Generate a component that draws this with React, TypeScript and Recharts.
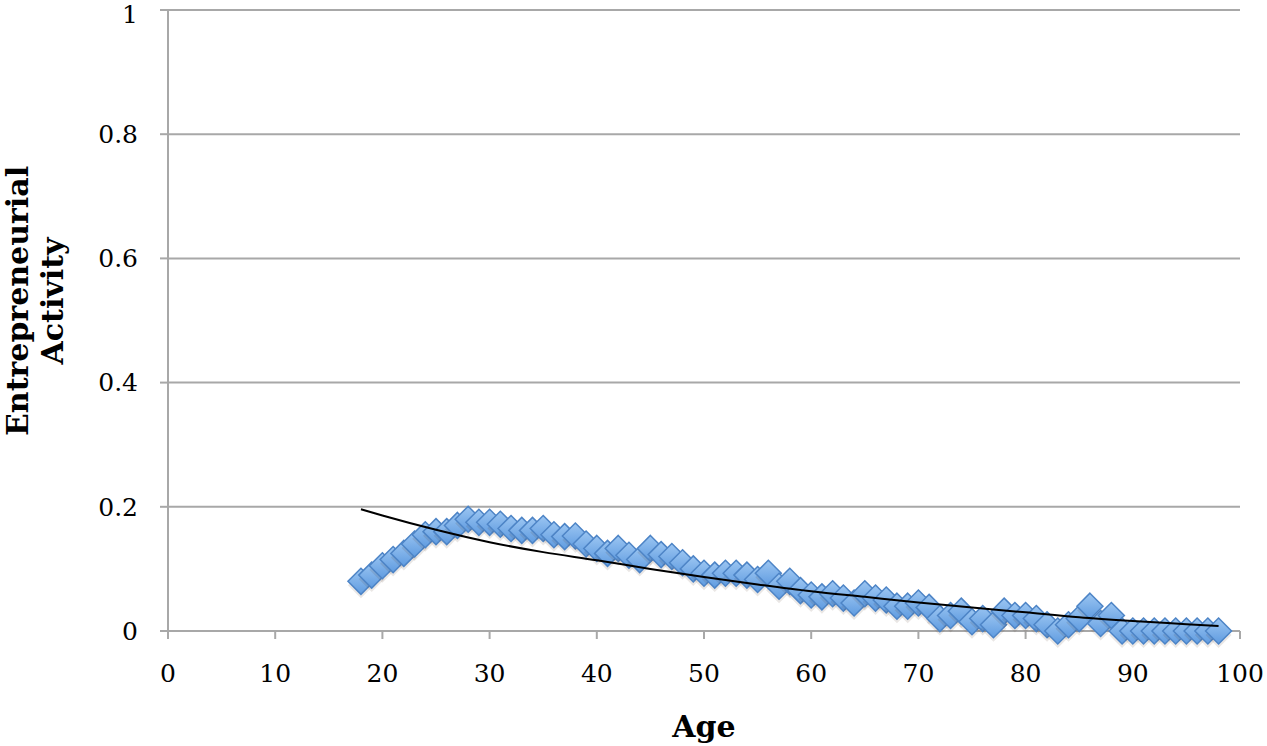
import { ScatterChart, Scatter, XAxis, YAxis, CartesianGrid } from 'recharts';

const ages = [
  18, 19, 20, 21, 22, 23, 24, 25, 26, 27, 28, 29, 30, 31, 32, 33, 34, 35, 36, 37, 38, 39,
  40, 41, 42, 43, 44, 45, 46, 47, 48, 49, 50, 51, 52, 53, 54, 55, 56, 57, 58, 59,
  60, 61, 62, 63, 64, 65, 66, 67, 68, 69, 70, 71, 72, 73, 74, 75, 76, 77, 78, 79,
  80, 81, 82, 83, 84, 85, 86, 87, 88, 89, 90, 91, 92, 93, 94, 95, 96, 97, 98,
];

const activity = [
  0.08, 0.09, 0.105, 0.115, 0.125, 0.14, 0.155, 0.16, 0.16, 0.17, 0.18, 0.175, 0.175, 0.172, 0.165, 0.162, 0.162, 0.165, 0.155, 0.152, 0.153, 0.14,
  0.133, 0.125, 0.133, 0.122, 0.115, 0.133, 0.123, 0.12, 0.11, 0.1, 0.093, 0.09, 0.093, 0.093, 0.09, 0.083, 0.093, 0.072, 0.08, 0.065,
  0.058, 0.055, 0.06, 0.053, 0.045, 0.06, 0.053, 0.05, 0.04, 0.04, 0.045, 0.038, 0.02, 0.025, 0.032, 0.015, 0.02, 0.01, 0.032, 0.025,
  0.025, 0.02, 0.01, 0.0, 0.01, 0.02, 0.04, 0.012, 0.025, 0, 0, 0, 0, 0, 0, 0, 0, 0, 0,
];

// fitted trend
const trendAges = [18, 20, 25, 30, 35, 40, 45, 50, 55, 60, 65, 70, 75, 80, 85, 90, 95, 98];
const trendValues = [0.196, 0.186, 0.163, 0.143, 0.127, 0.114, 0.1, 0.087, 0.075, 0.064, 0.055, 0.046, 0.038, 0.03, 0.022, 0.016, 0.011, 0.008];

const xTicks = [0, 10, 20, 30, 40, 50, 60, 70, 80, 90, 100];
const yTicks = [0, 0.2, 0.4, 0.6, 0.8, 1];

const points = ages.map((age, i) => ({ age, value: activity[i] }));
const trend = trendAges.map((age, i) => ({ age, value: trendValues[i] }));

const font = '"DejaVu Serif", "Liberation Serif", serif';

const Diamond = (props: any) => {
  const { cx, cy } = props;
  const r = 13;
  const d = `M${cx},${cy - r} L${cx + r},${cy} L${cx},${cy + r} L${cx - r},${cy} Z`;
  return (
    <g>
      <defs>
        <linearGradient id="dmFill" x1="0" y1="0" x2="0" y2="1">
          <stop offset="0%" stopColor="#9cc6f2" />
          <stop offset="100%" stopColor="#5f9be0" />
        </linearGradient>
      </defs>
      <path d={d} transform="translate(0,4)" fill="rgba(80,60,40,0.12)" />
      <path d={d} fill="url(#dmFill)" stroke="#4d84c6" strokeWidth={1.5} />
    </g>
  );
};

const YLabel = () => {
  const cx = 45;
  const cy = 301;
  return (
    <text
      transform={`rotate(-90, ${cx}, ${cy})`}
      x={cx}
      y={cy}
      textAnchor="middle"
      fontFamily={font}
      fontWeight="bold"
      fontSize={30}
      fill="#000"
    >
      <tspan x={cx} dy={-17}>Entrepreneurial</tspan>
      <tspan x={cx} dy={35}>Activity</tspan>
    </text>
  );
};

export default function App() {
  return (
    <div style={{ position: 'absolute', left: 0, top: 0, background: '#fff' }}>
      <ScatterChart width={1267} height={746} margin={{ top: 10, right: 27, left: 0, bottom: 0 }}>
        <CartesianGrid vertical={false} stroke="#a8a8a8" strokeWidth={2} />
        <XAxis
          type="number"
          dataKey="age"
          domain={[0, 100]}
          ticks={xTicks}
          height={115}
          stroke="#a8a8a8"
          strokeWidth={2}
          tickSize={8}
          tickMargin={25}
          tick={{ fill: '#000', fontSize: 25, fontFamily: font }}
          label={{ value: 'Age', position: 'insideBottom', offset: 9, fill: '#000', fontSize: 30, fontWeight: 'bold', fontFamily: font }}
        />
        <YAxis
          type="number"
          dataKey="value"
          domain={[0, 1]}
          ticks={yTicks}
          width={168}
          stroke="#a8a8a8"
          strokeWidth={2}
          tickSize={8}
          tickMargin={22}
          tick={{ fill: '#000', fontSize: 25, fontFamily: font }}
          label={{ content: <YLabel /> }}
        />
        <Scatter data={points} shape={<Diamond />} isAnimationActive={false} />
        <Scatter
          data={trend}
          line={{ stroke: '#000', strokeWidth: 2 }}
          lineJointType="monotoneX"
          shape={() => null}
          isAnimationActive={false}
        />
      </ScatterChart>
    </div>
  );
}
